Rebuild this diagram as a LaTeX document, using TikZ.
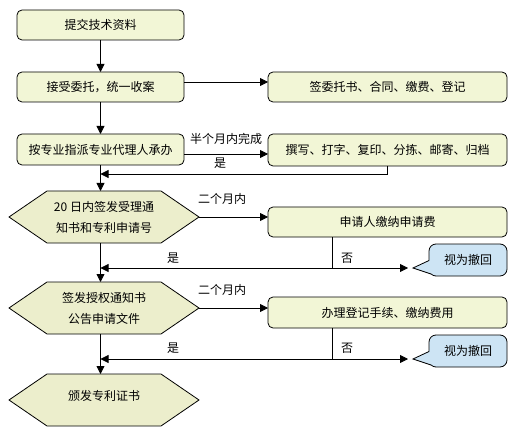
\documentclass[tikz,border=0pt]{standalone}
\usepackage{fontspec}
\setmainfont{Noto Sans CJK SC}
\usetikzlibrary{arrows.meta,backgrounds,calc}
\definecolor{boxfill}{RGB}{242,246,214}
\definecolor{hexfill}{RGB}{236,238,204}
\definecolor{callfill}{RGB}{205,228,244}
\begin{document}
\begin{tikzpicture}[x=1pt,y=-1pt,
  font=\fontsize{12}{21}\selectfont,
  every node/.style={inner sep=0pt, outer sep=0pt},
  procbox/.style={draw, fill=boxfill, rounded corners=5pt, minimum height=30pt, line width=0.8pt},
  hexbox/.style={minimum width=190pt, minimum height=52pt, align=center},
  hexshape/.style={draw, fill=hexfill, line width=0.8pt},
  calloutbox/.style={draw, fill=callfill, rounded corners=7pt, minimum width=78pt, minimum height=32pt, line width=0.8pt},
  conn/.style={line width=0.8pt},
  arr/.style={conn, -{Triangle[length=8pt,width=8pt]}},
  lbl/.style={inner sep=0pt}
]
\useasboundingbox (0,0) rectangle (518,435);

% left column boxes
\node[procbox, minimum width=167pt] (b1) at (100.5,25) {提交技术资料};
\node[procbox, minimum width=167pt] (b2) at (100.5,87) {接受委托，统一收案};
\node[procbox, minimum width=167pt, minimum height=31pt] (b3) at (100.5,149.5) {按专业指派专业代理人承办};

% right column boxes
\node[procbox, minimum width=239pt] (ra) at (387.5,87) {签委托书、合同、缴费、登记};
\node[procbox, minimum width=239pt, minimum height=32pt] (rb) at (387.5,150) {撰写、打字、复印、分拣、邮寄、归档};
\node[procbox, minimum width=239pt] (rc) at (387.5,222) {申请人缴纳申请费};
\node[procbox, minimum width=239pt, minimum height=31pt] (rd) at (387.5,312.5) {办理登记手续、缴纳费用};

% hexagons
\node[hexbox] (h1) at (104,217) {20 日内签发受理通\\知书和专利申请号};
\node[hexbox] (h2) at (104,308) {签发授权通知书\\公告申请文件};
\node[hexbox] (h3) at (104,400) {\raisebox{10pt}{颁发专利证书}};
\begin{scope}[on background layer]
\foreach \h in {h1,h2,h3}{
  \draw[hexshape] (\h.west) -- ([xshift=38pt]\h.north west) -- ([xshift=-38pt]\h.north east)
    -- (\h.east) -- ([xshift=-38pt]\h.south east) -- ([xshift=38pt]\h.south west) -- cycle;
}
\end{scope}

% callouts
\node[calloutbox] (c1) at (468,260) {视为撤回};
\coordinate (c1tip) at (413,268);
\fill[callfill] (429,260.5) -- (c1tip) -- (431,274) -- (433,271) -- (431.5,260.5) -- cycle;
\draw[conn] (429,260.5) -- (c1tip) -- (431,274);

\node[calloutbox] (c2) at (468,351) {视为撤回};
\coordinate (c2tip) at (413,359);
\fill[callfill] (429,351.5) -- (c2tip) -- (431,365) -- (433,362) -- (431.5,351.5) -- cycle;
\draw[conn] (429,351.5) -- (c2tip) -- (431,365);

% main flow
\draw[arr] (b1) -- (b2);
\draw[arr] (b2) -- (b3);
\draw[arr] ([yshift=5pt]b2.east) -- ([yshift=5pt]b2.east -| ra.west);
\draw[arr] ([yshift=-4.5pt]b3.east) -- ([yshift=-4.5pt]b3.east -| rb.west);
\node[lbl] (l1) at (226,139) {半个月内完成};
\node[lbl] (l2) at (220,163) {是};

\coordinate (r1) at (387,174);
\draw[arr] (rb.south -| r1) -- (r1) -- (r1 -| b3.south);
\draw[arr] (b3.south) -- (b3.south |- h1.north);

% hex1 branch
\draw[arr] (h1.east) -- (h1.east -| rc.west);
\node[lbl] (l3) at (222,199) {二个月内};
\coordinate (j1) at (332,268);
\draw[conn] (rc.south -| j1) -- (j1);
\draw[arr] (j1) -- (j1 -| b3.south);
\draw[arr, shorten >=5pt] (j1) -- (c1tip);
\node[lbl] (l4) at (173,258) {是};
\node[lbl] (l5) at (347,258) {否};
\draw[arr] (h1.south -| b3.south) -- (h2.north -| b3.south);

% hex2 branch
\draw[arr] (h2.east) -- (h2.east -| rd.west);
\node[lbl] (l6) at (222,290) {二个月内};
\coordinate (j2) at (332,359);
\draw[conn] (rd.south -| j2) -- (j2);
\draw[arr] (j2) -- (j2 -| b3.south);
\draw[arr, shorten >=5pt] (j2) -- (c2tip);
\node[lbl] (l7) at (173,348) {是};
\node[lbl] (l8) at (347,348) {否};
\draw[arr] (h2.south -| b3.south) -- (h3.north -| b3.south);
\end{tikzpicture}
\end{document}
